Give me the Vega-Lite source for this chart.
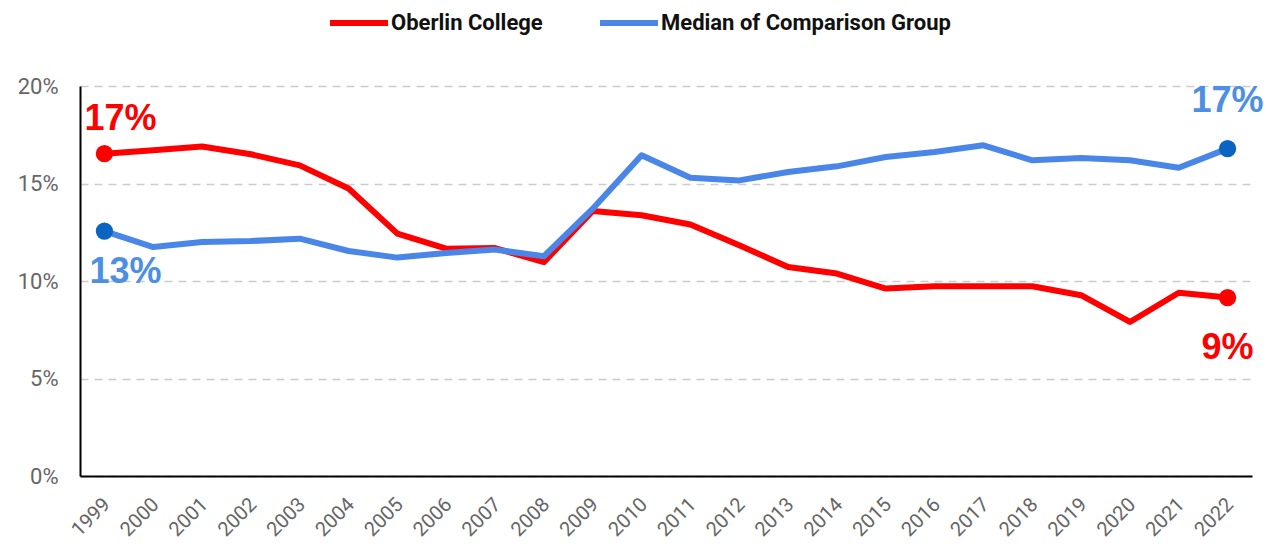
{
  "$schema": "https://vega.github.io/schema/vega-lite/v6.json",
  "autosize": "none",
  "width": 1172,
  "height": 390,
  "padding": {"left": 80, "top": 86, "right": 15, "bottom": 70},
  "background": "white",
  "config": {
    "font": "Roboto",
    "view": {"stroke": null}
  },
  "data": {"values": [
    {"year": "1999", "series": "Oberlin College", "value": 0.1653},
    {"year": "2000", "series": "Oberlin College", "value": 0.167},
    {"year": "2001", "series": "Oberlin College", "value": 0.169},
    {"year": "2002", "series": "Oberlin College", "value": 0.165},
    {"year": "2003", "series": "Oberlin College", "value": 0.1593},
    {"year": "2004", "series": "Oberlin College", "value": 0.1474},
    {"year": "2005", "series": "Oberlin College", "value": 0.1243},
    {"year": "2006", "series": "Oberlin College", "value": 0.1166},
    {"year": "2007", "series": "Oberlin College", "value": 0.1169},
    {"year": "2008", "series": "Oberlin College", "value": 0.1097},
    {"year": "2009", "series": "Oberlin College", "value": 0.1359},
    {"year": "2010", "series": "Oberlin College", "value": 0.1337},
    {"year": "2011", "series": "Oberlin College", "value": 0.129},
    {"year": "2012", "series": "Oberlin College", "value": 0.1183},
    {"year": "2013", "series": "Oberlin College", "value": 0.1072},
    {"year": "2014", "series": "Oberlin College", "value": 0.1038},
    {"year": "2015", "series": "Oberlin College", "value": 0.0961},
    {"year": "2016", "series": "Oberlin College", "value": 0.0973},
    {"year": "2017", "series": "Oberlin College", "value": 0.0973},
    {"year": "2018", "series": "Oberlin College", "value": 0.0973},
    {"year": "2019", "series": "Oberlin College", "value": 0.0927},
    {"year": "2020", "series": "Oberlin College", "value": 0.079},
    {"year": "2021", "series": "Oberlin College", "value": 0.094},
    {"year": "2022", "series": "Oberlin College", "value": 0.0915},
    {"year": "1999", "series": "Median of Comparison Group", "value": 0.1256},
    {"year": "2000", "series": "Median of Comparison Group", "value": 0.1174},
    {"year": "2001", "series": "Median of Comparison Group", "value": 0.12},
    {"year": "2002", "series": "Median of Comparison Group", "value": 0.1205},
    {"year": "2003", "series": "Median of Comparison Group", "value": 0.1217},
    {"year": "2004", "series": "Median of Comparison Group", "value": 0.1154},
    {"year": "2005", "series": "Median of Comparison Group", "value": 0.112},
    {"year": "2006", "series": "Median of Comparison Group", "value": 0.1144},
    {"year": "2007", "series": "Median of Comparison Group", "value": 0.1161},
    {"year": "2008", "series": "Median of Comparison Group", "value": 0.1127},
    {"year": "2009", "series": "Median of Comparison Group", "value": 0.1371},
    {"year": "2010", "series": "Median of Comparison Group", "value": 0.1645},
    {"year": "2011", "series": "Median of Comparison Group", "value": 0.153},
    {"year": "2012", "series": "Median of Comparison Group", "value": 0.1516},
    {"year": "2013", "series": "Median of Comparison Group", "value": 0.1559},
    {"year": "2014", "series": "Median of Comparison Group", "value": 0.1588},
    {"year": "2015", "series": "Median of Comparison Group", "value": 0.1636},
    {"year": "2016", "series": "Median of Comparison Group", "value": 0.1662},
    {"year": "2017", "series": "Median of Comparison Group", "value": 0.1696},
    {"year": "2018", "series": "Median of Comparison Group", "value": 0.1619},
    {"year": "2019", "series": "Median of Comparison Group", "value": 0.1631},
    {"year": "2020", "series": "Median of Comparison Group", "value": 0.1619},
    {"year": "2021", "series": "Median of Comparison Group", "value": 0.1581},
    {"year": "2022", "series": "Median of Comparison Group", "value": 0.1679}
  ]},
  "encoding": {
    "x": {
      "field": "year", "type": "ordinal",
      "scale": {"type": "point", "padding": 0.5},
      "axis": {
        "title": null, "labelAngle": -45, "labelAlign": "right", "labelBaseline": "top",
        "labelFontSize": 20, "labelColor": "#666666", "labelPadding": 18, "labelOffset": -5,
        "ticks": false, "domainColor": "#000000", "domainWidth": 2, "grid": false
      }
    },
    "y": {
      "field": "value", "type": "quantitative",
      "scale": {"domain": [0, 0.2], "nice": false},
      "axis": {
        "title": null, "values": [0, 0.05, 0.1, 0.15, 0.2], "format": ".0%",
        "labelFontSize": 22, "labelColor": "#666666", "labelPadding": 22,
        "ticks": false, "domainColor": "#000000", "domainWidth": 2,
        "grid": true, "gridColor": "#cccccc", "gridDash": [8, 6], "gridWidth": 1.5
      }
    }
  },
  "layer": [
    {
      "mark": {"type": "line", "strokeWidth": 6, "strokeJoin": "round"},
      "encoding": {
        "color": {
          "field": "series", "type": "nominal",
          "scale": {"domain": ["Oberlin College", "Median of Comparison Group"], "range": ["#ff0000", "#4a86e8"]},
          "legend": {
            "title": null, "orient": "none", "direction": "horizontal",
            "legendX": 247, "legendY": -95,
            "symbolType": "stroke", "symbolSize": 3364, "symbolStrokeWidth": 6,
            "labelFontSize": 22, "labelFontWeight": "bold", "labelColor": "#111111",
            "labelOffset": 0, "labelLimit": 0, "columnPadding": 45
          }
        }
      }
    },
    {
      "transform": [{"filter": "datum.series == 'Oberlin College' && (datum.year == '1999' || datum.year == '2022')"}],
      "mark": {"type": "point", "filled": true, "size": 300, "color": "#ff0000", "opacity": 1}
    },
    {
      "transform": [{"filter": "datum.series == 'Median of Comparison Group' && (datum.year == '1999' || datum.year == '2022')"}],
      "mark": {"type": "point", "filled": true, "size": 300, "color": "#0b64c2", "opacity": 1}
    },
    {
      "transform": [{"filter": "datum.series == 'Oberlin College' && datum.year == '1999'"}],
      "mark": {"type": "text", "font": "Liberation Sans", "fontSize": 36, "fontWeight": "bold", "color": "#ff0000", "dx": 16, "dy": -35},
      "encoding": {"text": {"field": "value", "format": ".0%"}}
    },
    {
      "transform": [{"filter": "datum.series == 'Oberlin College' && datum.year == '2022'"}],
      "mark": {"type": "text", "font": "Liberation Sans", "fontSize": 36, "fontWeight": "bold", "color": "#ff0000", "dx": 0, "dy": 50},
      "encoding": {"text": {"field": "value", "format": ".0%"}}
    },
    {
      "transform": [{"filter": "datum.series == 'Median of Comparison Group' && datum.year == '1999'"}],
      "mark": {"type": "text", "font": "Liberation Sans", "fontSize": 36, "fontWeight": "bold", "color": "#4d8fe3", "dx": 21, "dy": 41},
      "encoding": {"text": {"field": "value", "format": ".0%"}}
    },
    {
      "transform": [{"filter": "datum.series == 'Median of Comparison Group' && datum.year == '2022'"}],
      "mark": {"type": "text", "font": "Liberation Sans", "fontSize": 36, "fontWeight": "bold", "color": "#4d8fe3", "dx": 0, "dy": -48},
      "encoding": {"text": {"field": "value", "format": ".0%"}}
    }
  ]
}
